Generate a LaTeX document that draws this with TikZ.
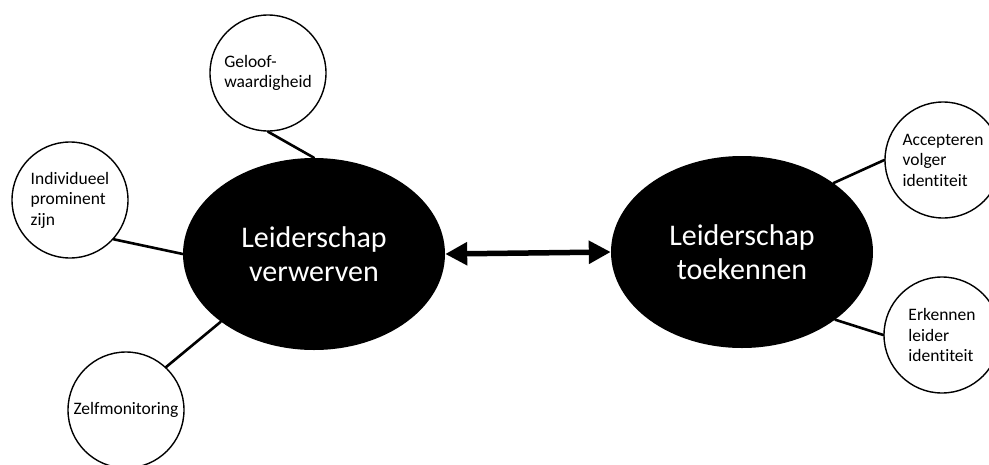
\documentclass[tikz,border=0pt]{standalone}
\usepackage{fontspec}
\setmainfont{Carlito}[Ligatures=NoCommon]
\usetikzlibrary{shapes.geometric,arrows.meta}

\begin{document}
\begin{tikzpicture}[x=1pt, y=1pt, line cap=round, line join=round,
  core/.style={ellipse, fill=black, text=white, minimum width=262pt,
    minimum height=192pt, inner sep=0pt, align=center,
    font=\fontsize{30}{34}\selectfont},
  leaf/.style={circle, draw, line width=1.4pt, minimum size=116pt,
    inner sep=0pt, align=left, font=\fontsize{17.5}{20.5}\selectfont},
  spoke/.style={line width=2.6pt},
  link/.style={line width=5.5pt,
    {Triangle[length=22pt,width=22pt]}-{Triangle[length=22pt,width=22pt]}}
]

% ---------------------------
% Page frame (right circles run off the edge)
% ---------------------------
\useasboundingbox (0,0) rectangle (989,-464);
\clip (0,0) rectangle (989,-464);

% ---------------------------
% The two black ellipses
% ---------------------------
\node[core] (verwerven) at (314,-254) {Leiderschap\\verwerven};
\node[core] (toekennen) at (742,-252) {Leiderschap\\toekennen};

% ---------------------------
% Circles around "verwerven"
% ---------------------------
\node[leaf] (geloof) at (268,-73)  {Geloof-\\waardigheid};
\node[leaf] (prominent) at (70,-200) {Individueel\\prominent\\zijn};
\node[leaf] (zelf) at (126,-410) {Zelfmonitoring};

% ---------------------------
% Circles around "toekennen"
% ---------------------------
\node[leaf] (volger) at (943,-160) {Accepteren\\volger\\identiteit};
\node[leaf] (leider) at (942,-335) {Erkennen\\leider\\identiteit};

% ---------------------------
% Spokes from circles to ellipses
% ---------------------------
\draw[spoke] (geloof.south) -- (verwerven.north);
\draw[spoke] (prominent.-42) -- (verwerven.west);
\draw[spoke] (zelf.47) -- (verwerven.216);
\draw[spoke] (toekennen.37) -- (volger.west);
\draw[spoke] (toekennen.-36) -- (leider.west);

% ---------------------------
% Two-way arrow between the ellipses
% ---------------------------
\draw[link] (verwerven.east) -- (toekennen.west);

\end{tikzpicture}
\end{document}
